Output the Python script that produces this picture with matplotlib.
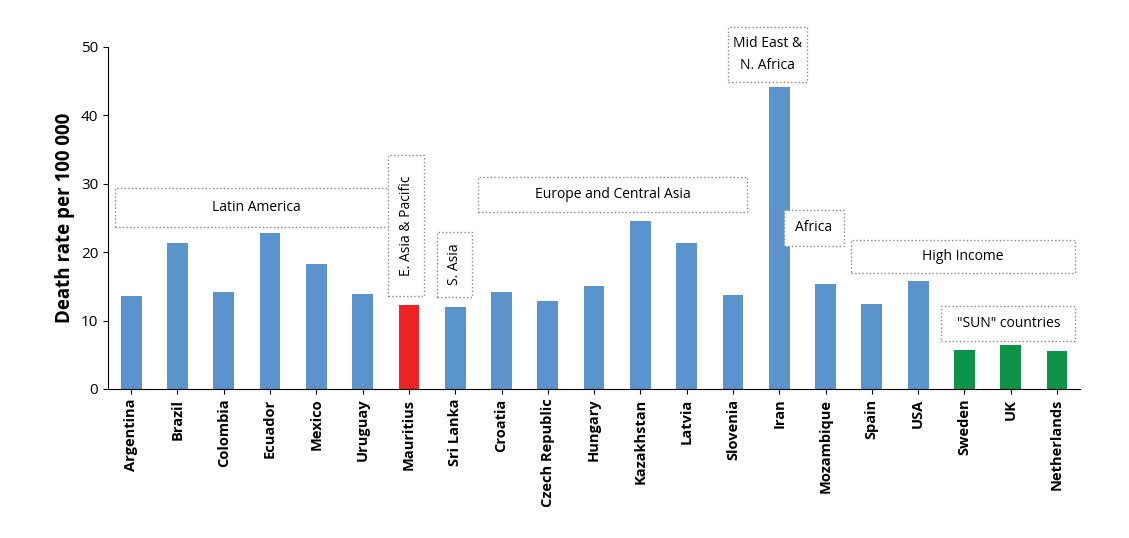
import matplotlib.pyplot as plt
from matplotlib.patches import Rectangle

countries = ["Argentina", "Brazil", "Colombia", "Ecuador", "Mexico", "Uruguay", "Mauritius",
             "Sri Lanka", "Croatia", "Czech Republic", "Hungary", "Kazakhstan", "Latvia",
             "Slovenia", "Iran", "Mozambique", "Spain", "USA", "Sweden", "UK", "Netherlands"]
death_rate = [13.6, 21.4, 14.2, 22.8, 18.3, 13.9, 12.2, 12.0, 14.1, 12.9, 15.1, 24.6,
              21.4, 13.8, 44.1, 15.4, 12.4, 15.8, 5.7, 6.4, 5.6]
blue, red, green = "#5B93CC", "#EE2124", "#0E9448"
colors = [blue] * 6 + [red] + [blue] * 11 + [green] * 3

# (label, x0, x1, y0, y1, vertical)
regions = [
    ("Latin America", -0.35, 5.75, 23.7, 29.4, False),
    ("E. Asia & Pacific", 5.55, 6.33, 13.6, 34.2, True),
    ("S. Asia", 6.6, 7.36, 13.5, 23.0, True),
    ("Europe and Central Asia", 7.5, 13.3, 25.9, 31.0, False),
    ("Mid East &\nN. Africa", 12.9, 14.6, 44.9, 52.9, False),
    ("Africa", 14.1, 15.4, 20.9, 26.2, False),
    ("High Income", 15.55, 20.4, 17.0, 21.8, False),
    ('"SUN" countries', 17.5, 20.4, 7.0, 12.1, False),
]

plt.rcParams['font.family'] = ['Open Sans', 'DejaVu Sans']
fig = plt.figure(figsize=(11.29, 5.38), dpi=100)
ax = fig.add_axes([0.0957, 0.277, 0.861, 0.636])
x = range(len(countries))
ax.bar(x, death_rate, width=0.45, color=colors)
ax.set_xlim(-0.5, len(countries) - 0.5)
ax.set_ylim(0, 50)
ax.set_yticks(range(0, 51, 10))
ax.set_xticks(list(x))
ax.set_xticklabels(countries, rotation=90, fontweight="bold", fontsize=10.5)
ax.tick_params(axis="y", labelsize=11)
ax.set_ylabel("Death rate per 100 000", fontweight="bold", fontsize=13.5)
ax.spines["top"].set_visible(False)
ax.spines["right"].set_visible(False)

for label, x0, x1, y0, y1, vert in regions:
    ax.add_patch(Rectangle((x0, y0), x1 - x0, y1 - y0, fill=True, facecolor="white",
                           edgecolor="#888888", linestyle=":", linewidth=1, clip_on=False, zorder=3))
    ax.text((x0 + x1) / 2, (y0 + y1) / 2, label, ha="center", va="center", fontsize=10,
            rotation=90 if vert else 0, zorder=4, linespacing=1.6)

fig.savefig("out.png", dpi=100)
